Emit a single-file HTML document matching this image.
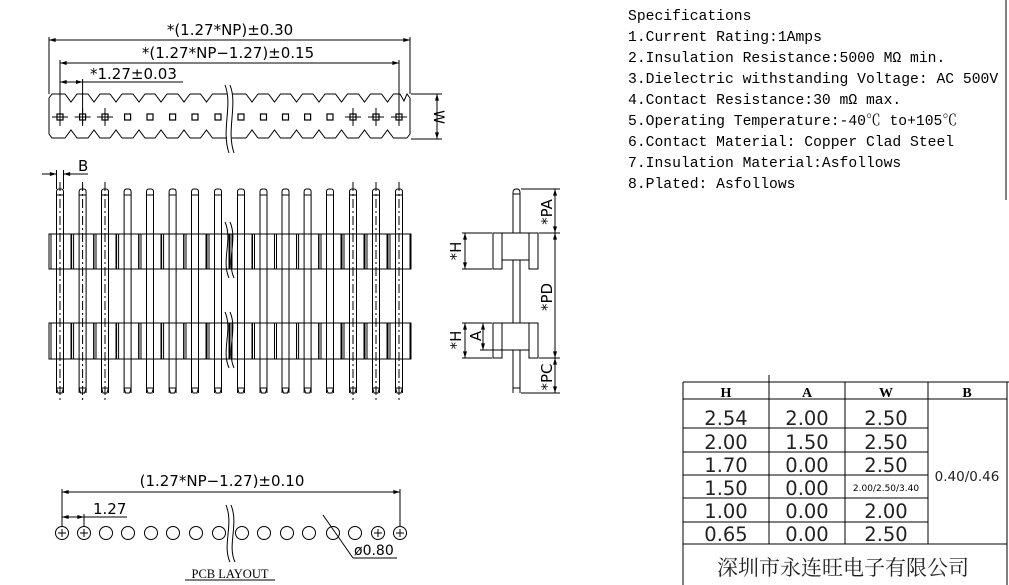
<!DOCTYPE html>
<html><head><meta charset="utf-8"><style>
html,body{margin:0;padding:0;background:#fff;}
svg{display:block;}
.d{font-family:"DejaVu Sans","Liberation Sans",sans-serif;font-size:15px;fill:#000;}
.s{font-family:"Liberation Mono","Noto Serif CJK SC",monospace;font-size:14.7px;fill:#000;}
.t{font-family:"DejaVu Sans","Liberation Sans",sans-serif;font-size:19.5px;fill:#222;}
.h{font-family:"Liberation Serif",serif;font-size:14px;font-weight:bold;fill:#000;}
</style></head><body>
<svg width="1009" height="585" viewBox="0 0 1009 585" xmlns="http://www.w3.org/2000/svg">
<defs>
<marker id="ar" viewBox="0 0 10 6" refX="10" refY="3" markerWidth="7" markerHeight="4" orient="auto-start-reverse" markerUnits="userSpaceOnUse"><path d="M0,0 L10,3 L0,6 z" fill="#000"/></marker>
<g id="tp"><rect x="-3" y="114" width="6" height="6" fill="none" stroke="#000" stroke-width="1.2"/></g>
<g id="tc"><rect x="-3" y="114" width="6" height="6" fill="none" stroke="#000" stroke-width="1.2"/><line x1="-8" y1="117" x2="8" y2="117" stroke="#000"/><line x1="0" y1="108" x2="0" y2="126" stroke="#000"/></g>
<g id="fp" fill="none" stroke="#000" stroke-width="1">
<rect x="-11" y="234" width="22" height="35"/><rect x="-11" y="323" width="22" height="36"/>
<line x1="-9" y1="234" x2="-9" y2="269"/><line x1="-9" y1="323" x2="-9" y2="359"/>
<path d="M-3.5,393 L-3.5,192 Q-3.5,189 -1,189 L1,189 Q3.5,189 3.5,192 L3.5,393"/>
<line x1="-3.5" y1="195" x2="3.5" y2="195"/><line x1="-3.5" y1="388" x2="3.5" y2="388"/>
<path d="M-3.5,388 L-2,393 L2,393 L3.5,388"/>
</g>
<g id="cl"><line x1="0" y1="182" x2="0" y2="400" stroke="#000" stroke-width="1" stroke-dasharray="9,3,2,3"/></g>
<g id="pc"><circle cx="0" cy="533" r="6.5" fill="none" stroke="#000"/></g>
<g id="pp"><circle cx="0" cy="533" r="6.5" fill="none" stroke="#000"/><line x1="-4" y1="533" x2="4" y2="533" stroke="#000"/><line x1="0" y1="529" x2="0" y2="537" stroke="#000"/></g>
</defs>

<g fill="none" stroke="#000" stroke-width="1">
<line x1="49" y1="37" x2="49" y2="94"/><line x1="410" y1="37" x2="410" y2="94"/>
<line x1="49" y1="40" x2="410" y2="40" marker-start="url(#ar)" marker-end="url(#ar)"/>
<line x1="60" y1="60" x2="60" y2="124"/><line x1="399" y1="60" x2="399" y2="124"/>
<line x1="60" y1="63" x2="399" y2="63" marker-start="url(#ar)" marker-end="url(#ar)"/>
<line x1="82.6" y1="79" x2="82.6" y2="124"/>
<line x1="60" y1="82" x2="82.6" y2="82" marker-start="url(#ar)" marker-end="url(#ar)"/>
<line x1="82.6" y1="82" x2="183" y2="82"/>
<path d="M49,98 L52,94 L65,94 L71,102 L77,94 L88,94 L94,102 L100,94 L110,94 L116,102 L122,94 L133,94 L139,102 L145,94 L155,94 L161,102 L167,94 L178,94 L184,102 L190,94 L200.5,94 L206.5,102 L212.5,94 L227,94 M232,94 L246,94 L252,102 L258,94 L268.5,94 L274.5,102 L280.5,94 L290.5,94 L296.5,102 L302.5,94 L313,94 L319,102 L325,94 L335.5,94 L341.5,102 L347.5,94 L358.5,94 L364.5,102 L370.5,94 L381.5,94 L387.5,102 L393.5,94 L400,94 L404,101 L407,94 L407,94 L410,98 L410,134 L407,138"/>
<path d="M49,98 L49,134 L52,138 L65,138 L71,130 L77,138 L88,138 L94,130 L100,138 L110,138 L116,130 L122,138 L133,138 L139,130 L145,138 L155,138 L161,130 L167,138 L178,138 L184,130 L190,138 L200.5,138 L206.5,130 L212.5,138 L227,138 M232,138 L246,138 L252,130 L258,138 L268.5,138 L274.5,130 L280.5,138 L290.5,138 L296.5,130 L302.5,138 L313,138 L319,130 L325,138 L335.5,138 L341.5,130 L347.5,138 L358.5,138 L364.5,130 L370.5,138 L381.5,138 L387.5,130 L393.5,138 L407,138"/>
<path d="M225,85 C233,105 221,130 229,153"/><path d="M230,85 C238,105 226,130 234,153"/>
<line x1="411" y1="94" x2="442" y2="94"/><line x1="411" y1="139" x2="442" y2="139"/>
<line x1="437" y1="94" x2="437" y2="139" marker-start="url(#ar)" marker-end="url(#ar)"/>
</g>
<use href="#tc" x="60"/><use href="#tc" x="82.6"/><use href="#tc" x="105"/>
<use href="#tp" x="127.6"/><use href="#tp" x="150"/><use href="#tp" x="172.6"/><use href="#tp" x="195"/><use href="#tp" x="218"/>
<use href="#tp" x="241"/><use href="#tp" x="263.5"/><use href="#tp" x="285.5"/><use href="#tp" x="307.6"/><use href="#tp" x="330"/>
<use href="#tc" x="353"/><use href="#tc" x="376"/><use href="#tc" x="399"/>
<text class="d" x="230" y="35" text-anchor="middle">*(1.27*NP)±0.30</text>
<text class="d" x="228" y="58" text-anchor="middle">*(1.27*NP−1.27)±0.15</text>
<text class="d" x="90" y="79">*1.27±0.03</text>
<text class="d" transform="translate(434,117) rotate(90)" text-anchor="middle" style="font-size:14px">W</text>

<g fill="none" stroke="#000">
<rect x="49" y="234" width="362" height="35"/><rect x="49" y="323" width="362" height="36"/>
<line x1="42" y1="174" x2="56.5" y2="174" marker-end="url(#ar)"/>
<line x1="63.5" y1="174" x2="88" y2="174" marker-start="url(#ar)"/>
<line x1="56.5" y1="170" x2="56.5" y2="189"/><line x1="63.5" y1="170" x2="63.5" y2="189"/>
</g>
<use href="#fp" x="60"/><use href="#fp" x="82.6"/><use href="#fp" x="105"/><use href="#fp" x="127.6"/><use href="#fp" x="150"/><use href="#fp" x="172.6"/><use href="#fp" x="195"/><use href="#fp" x="218"/>
<use href="#fp" x="241"/><use href="#fp" x="263.5"/><use href="#fp" x="285.5"/><use href="#fp" x="307.6"/><use href="#fp" x="330"/><use href="#fp" x="353"/><use href="#fp" x="376"/><use href="#fp" x="399"/>
<use href="#cl" x="60"/><use href="#cl" x="82.6"/><use href="#cl" x="105"/><use href="#cl" x="353"/><use href="#cl" x="376"/><use href="#cl" x="399"/>
<g fill="none" stroke="#000">
<path d="M225,222 C233,240 221,260 229,278"/><path d="M230,222 C238,240 226,260 234,278"/>
<path d="M225,312 C233,330 221,350 229,368"/><path d="M230,312 C238,330 226,350 234,368"/>
</g>
<text class="d" x="78" y="171">B</text>

<g fill="none" stroke="#000">
<path d="M513,393 L513,193 Q513,189 516,189 L517,189 Q520,189 520,193 L520,393"/>
<line x1="513" y1="194" x2="520" y2="194"/><line x1="513" y1="388" x2="520" y2="388"/>
<rect x="493" y="233" width="9" height="36"/><rect x="529" y="233" width="9" height="36"/><rect x="502" y="233" width="27" height="27" fill="#fff"/>
<rect x="493" y="323" width="9" height="35"/><rect x="529" y="323" width="9" height="35"/><rect x="502" y="323" width="27" height="27" fill="#fff"/>
<line x1="521" y1="189" x2="560" y2="189"/><line x1="539" y1="233" x2="560" y2="233"/><line x1="539" y1="358" x2="560" y2="358"/><line x1="521" y1="393" x2="560" y2="393"/>
<line x1="555" y1="189" x2="555" y2="233" marker-start="url(#ar)" marker-end="url(#ar)"/>
<line x1="555" y1="233" x2="555" y2="358" marker-start="url(#ar)" marker-end="url(#ar)"/>
<line x1="555" y1="358" x2="555" y2="393" marker-start="url(#ar)" marker-end="url(#ar)"/>
<line x1="462" y1="233" x2="492" y2="233"/><line x1="462" y1="269" x2="492" y2="269"/>
<line x1="465" y1="233" x2="465" y2="269" marker-start="url(#ar)" marker-end="url(#ar)"/>
<line x1="462" y1="323" x2="492" y2="323"/><line x1="462" y1="358" x2="492" y2="358"/>
<line x1="465" y1="323" x2="465" y2="358" marker-start="url(#ar)" marker-end="url(#ar)"/>
<line x1="480" y1="350" x2="502" y2="350"/>
<line x1="483" y1="323" x2="483" y2="350" marker-start="url(#ar)" marker-end="url(#ar)"/>
</g>
<text class="d" transform="translate(552,212) rotate(-90)" text-anchor="middle">*PA</text>
<text class="d" transform="translate(552,297) rotate(-90)" text-anchor="middle">*PD</text>
<text class="d" transform="translate(552,377) rotate(-90)" text-anchor="middle">*PC</text>
<text class="d" transform="translate(461,251) rotate(-90)" text-anchor="middle">*H</text>
<text class="d" transform="translate(461,340) rotate(-90)" text-anchor="middle">*H</text>
<text class="d" transform="translate(481,336) rotate(-90)" text-anchor="middle">A</text>

<g fill="none" stroke="#000">
<line x1="62" y1="489" x2="62" y2="527"/><line x1="400" y1="489" x2="400" y2="527"/>
<line x1="62" y1="492" x2="400" y2="492" marker-start="url(#ar)" marker-end="url(#ar)"/>
<line x1="84" y1="514" x2="84" y2="527"/>
<line x1="62" y1="517" x2="84" y2="517" marker-start="url(#ar)" marker-end="url(#ar)"/>
<line x1="84" y1="517" x2="127" y2="517"/>
<line x1="323" y1="515" x2="353" y2="558"/><line x1="353" y1="558" x2="397" y2="558"/>
<path d="M226,505 C234,525 222,545 230,562"/><path d="M231,505 C239,525 227,545 235,562"/>
<line x1="185" y1="580" x2="275" y2="580"/>
</g>
<use href="#pp" x="62"/><use href="#pp" x="84"/><use href="#pc" x="106"/><use href="#pc" x="128"/><use href="#pc" x="151"/><use href="#pc" x="173"/><use href="#pc" x="196"/><use href="#pc" x="219"/>
<use href="#pc" x="242"/><use href="#pc" x="264"/><use href="#pc" x="287"/><use href="#pc" x="309"/><use href="#pc" x="333"/><use href="#pc" x="355"/><use href="#pp" x="378"/><use href="#pp" x="400"/>
<text class="d" x="222" y="486" text-anchor="middle">(1.27*NP−1.27)±0.10</text>
<text class="d" x="93" y="514">1.27</text>
<text class="d" x="354" y="555" style="font-size:14px">ø0.80</text>
<text x="230" y="578" text-anchor="middle" style="font-family:'Liberation Serif',serif;font-size:12.5px">PCB LAYOUT</text>

<line x1="1006" y1="0" x2="1006" y2="200" stroke="#000"/>
<text class="s" x="628" y="20">Specifications</text>
<text class="s" x="628" y="41">1.Current Rating:1Amps</text>
<text class="s" x="628" y="62">2.Insulation Resistance:5000 MΩ min.</text>
<text class="s" x="628" y="83">3.Dielectric withstanding Voltage: AC 500V</text>
<text class="s" x="628" y="104">4.Contact Resistance:30 mΩ max.</text>
<text class="s" x="628" y="125">5.Operating Temperature:-40℃ to+105℃</text>
<text class="s" x="628" y="146">6.Contact Material: Copper Clad Steel</text>
<text class="s" x="628" y="167">7.Insulation Material:Asfollows</text>
<text class="s" x="628" y="188">8.Plated: Asfollows</text>

<g fill="none" stroke="#000">
<line x1="683" y1="382" x2="1009" y2="382"/>
<line x1="683" y1="382" x2="683" y2="585"/>
<line x1="1007" y1="382" x2="1007" y2="585"/>
<line x1="683" y1="399" x2="1007" y2="399"/>
<line x1="769" y1="375" x2="769" y2="544"/>
<line x1="845" y1="382" x2="845" y2="544"/>
<line x1="928" y1="382" x2="928" y2="544"/>
<line x1="683" y1="428" x2="928" y2="428"/>
<line x1="683" y1="452" x2="928" y2="452"/>
<line x1="683" y1="475" x2="928" y2="475"/>
<line x1="683" y1="498" x2="928" y2="498"/>
<line x1="683" y1="522" x2="928" y2="522"/>
<line x1="683" y1="544" x2="1007" y2="544"/>
</g>
<text class="h" x="726" y="397" text-anchor="middle">H</text>
<text class="h" x="807" y="397" text-anchor="middle">A</text>
<text class="h" x="886" y="397" text-anchor="middle">W</text>
<text class="h" x="967" y="397" text-anchor="middle">B</text>
<g class="t" text-anchor="middle">
<text x="726" y="425">2.54</text><text x="807" y="425">2.00</text><text x="886" y="425">2.50</text>
<text x="726" y="449">2.00</text><text x="807" y="449">1.50</text><text x="886" y="449">2.50</text>
<text x="726" y="472">1.70</text><text x="807" y="472">0.00</text><text x="886" y="472">2.50</text>
<text x="726" y="495">1.50</text><text x="807" y="495">0.00</text>
<text x="726" y="518">1.00</text><text x="807" y="518">0.00</text><text x="886" y="518">2.00</text>
<text x="726" y="541">0.65</text><text x="807" y="541">0.00</text><text x="886" y="541">2.50</text>
</g>
<text x="886" y="491" text-anchor="middle" style="font-family:'DejaVu Sans',sans-serif;font-size:9px">2.00/2.50/3.40</text>
<text x="967" y="481" text-anchor="middle" style="font-family:'DejaVu Sans',sans-serif;font-size:13.5px;fill:#222">0.40/0.46</text>
<text x="843" y="575" text-anchor="middle" style="font-family:'Noto Serif CJK SC','Noto Sans CJK SC',serif;font-size:21px;fill:#222">深圳市永连旺电子有限公司</text>
</svg>
</body></html>
